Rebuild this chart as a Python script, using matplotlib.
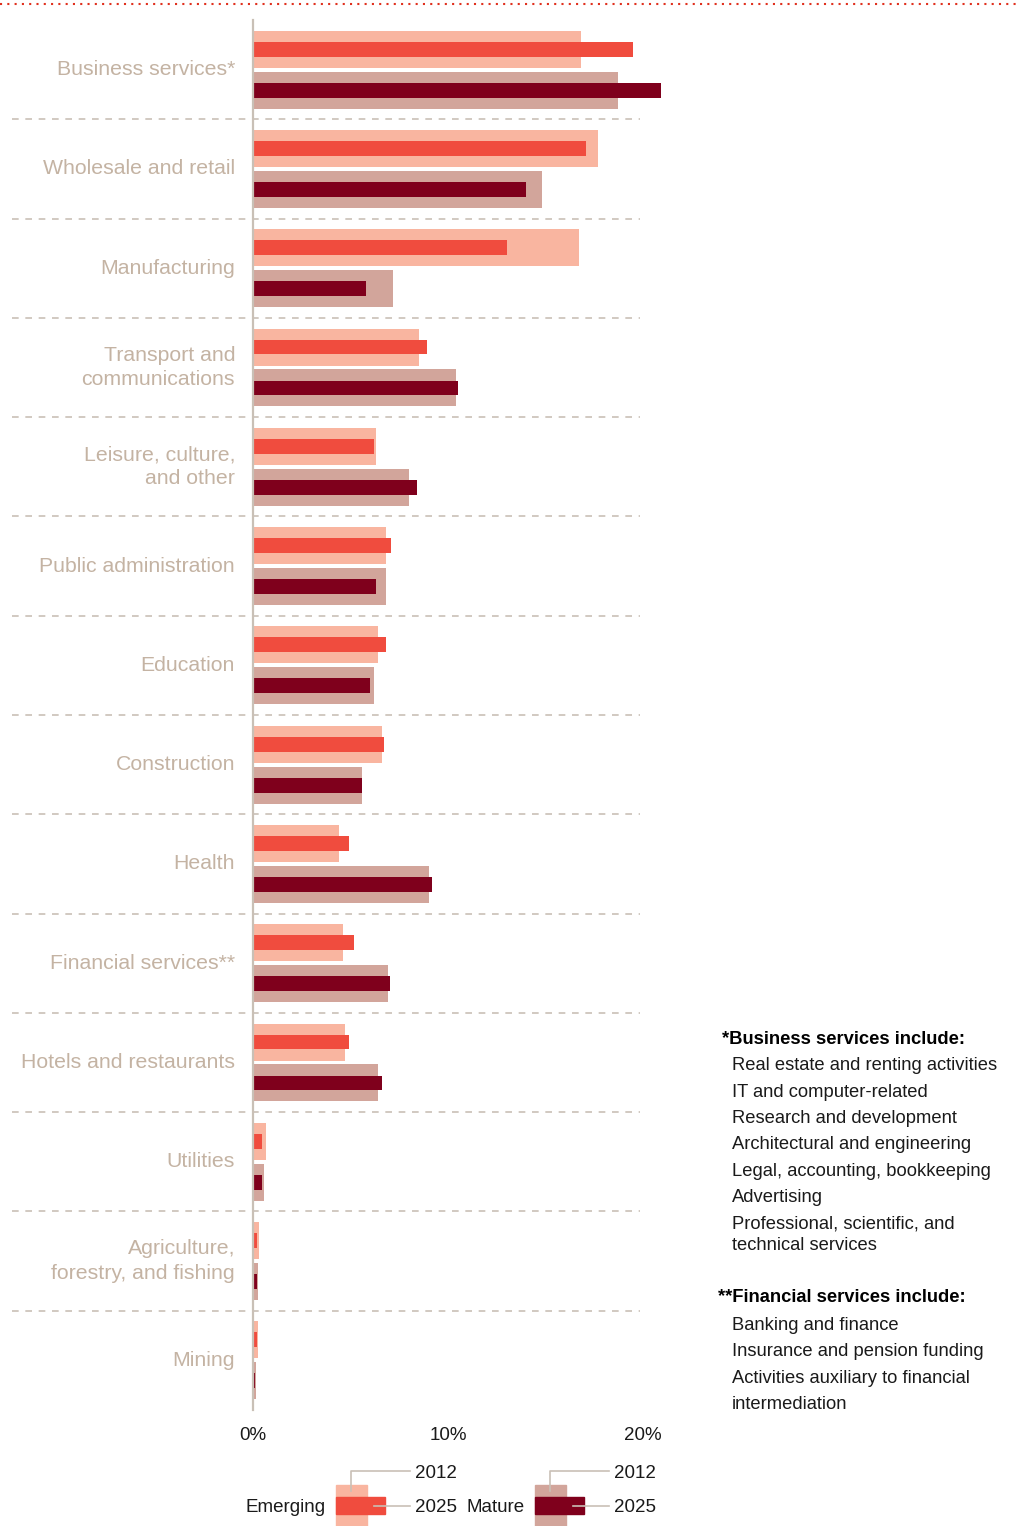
import matplotlib.pyplot as plt
from matplotlib.patches import Rectangle
from matplotlib.lines import Line2D

plt.rcParams['font.family'] = ['Liberation Sans', 'DejaVu Sans']

categories = ['Business services*', 'Wholesale and retail', 'Manufacturing',
              'Transport and\ncommunications', 'Leisure, culture,\nand other',
              'Public administration', 'Education', 'Construction', 'Health',
              'Financial services**', 'Hotels and restaurants', 'Utilities',
              'Agriculture,\nforestry, and fishing', 'Mining']

emerging_2012 = [16.8, 17.7, 16.7, 8.5, 6.3, 6.8, 6.4, 6.6, 4.4, 4.6, 4.7, 0.67, 0.3, 0.26]
emerging_2025 = [19.5, 17.1, 13.0, 8.9, 6.2, 7.1, 6.8, 6.7, 4.9, 5.2, 4.9, 0.46, 0.2, 0.2]
mature_2012 = [18.7, 14.8, 7.2, 10.4, 8.0, 6.8, 6.2, 5.6, 9.0, 6.9, 6.4, 0.56, 0.26, 0.15]
mature_2025 = [20.9, 14.0, 5.8, 10.5, 8.4, 6.3, 6.0, 5.6, 9.2, 7.0, 6.6, 0.46, 0.2, 0.1]

x_ticks = [0, 10, 20]
x_tick_labels = ['0%', '10%', '20%']

business_notes = ['Real estate and renting activities', 'IT and computer-related',
                  'Research and development', 'Architectural and engineering',
                  'Legal, accounting, bookkeeping', 'Advertising',
                  'Professional, scientific, and', 'technical services']
financial_notes = ['Banking and finance', 'Insurance and pension funding',
                   'Activities auxiliary to financial', 'intermediation']

c_e12 = '#f9b5a0'
c_e25 = '#f04c3e'
c_m12 = '#d2a59b'
c_m25 = '#7f001c'
c_grid = '#c9c0b6'
c_label = '#c4b3a3'
c_text = '#1a1a1a'

W, H = 1018, 1526
fig = plt.figure(figsize=(W / 100, H / 100), dpi=100)

# axes: 0% at x=253, 20% at x=643
ax_left, ax_top, ax_bottom = 253, 20, 1410
xmax = 22
ax_w = 19.5 * xmax
ax = fig.add_axes([ax_left / W, 1 - ax_bottom / H, ax_w / W, (ax_bottom - ax_top) / H])

n = len(categories)
ys = list(range(n))
wide, narrow, off = 0.372, 0.15, 0.206

ax.barh([y - off for y in ys], emerging_2012, height=wide, color=c_e12, zorder=2)
ax.barh([y - off for y in ys], emerging_2025, height=narrow, color=c_e25, zorder=3)
ax.barh([y + off for y in ys], mature_2012, height=wide, color=c_m12, zorder=2)
ax.barh([y + off for y in ys], mature_2025, height=narrow, color=c_m25, zorder=3)

ax.set_xlim(0, xmax)
ax.set_ylim(n - 0.5, -0.5)

for s in ['top', 'right', 'bottom']:
    ax.spines[s].set_visible(False)
ax.spines['left'].set_color(c_grid)
ax.spines['left'].set_linewidth(1.6)
ax.spines['left'].set_zorder(4)
ax.set_yticks([])
ax.set_xticks(x_ticks)
ax.set_xticklabels(x_tick_labels, fontsize=13.5, color=c_text)
ax.tick_params(axis='x', length=0, pad=12)

# dashed separators between categories
x_from = (12 - ax_left) / 19.5
x_to = (640 - ax_left) / 19.5
for i in range(n - 1):
    ax.plot([x_from, x_to], [i + 0.5, i + 0.5], color=c_grid, lw=1.2,
            ls=(0, (4, 4)), clip_on=False, zorder=1)

# category labels
for y, name in zip(ys, categories):
    ax.text(-0.92, y, name, ha='right', va='center', fontsize=15.3,
            color=c_label, linespacing=1.35)

# top dotted red rule
fig.add_artist(Line2D([0, 1], [1 - 4 / H, 1 - 4 / H], color='#e0301e', lw=1.5,
                      ls=(0, (1, 2.5)), transform=fig.transFigure))


def fx(px):
    return px / W


def fy(py):
    return 1 - py / H


def legend_block(x0, light, dark, label):
    fig.add_artist(Rectangle((fx(x0), fy(1526)), fx(31), 41 / H, color=light,
                             transform=fig.transFigure))
    fig.add_artist(Rectangle((fx(x0), fy(1514)), fx(49), 17 / H, color=dark,
                             transform=fig.transFigure))
    fig.add_artist(Line2D([fx(x0 + 15), fx(x0 + 15), fx(x0 + 74)],
                          [fy(1491), fy(1471), fy(1471)], color=c_grid, lw=1.2,
                          transform=fig.transFigure))
    fig.add_artist(Line2D([fx(x0 + 38), fx(x0 + 74)], [fy(1506), fy(1506)],
                          color=c_grid, lw=1.2, transform=fig.transFigure))
    fig.text(fx(x0 + 79), fy(1474), '2012', ha='left', va='center', fontsize=13.5,
             color=c_text)
    fig.text(fx(x0 + 79), fy(1507), '2025', ha='left', va='center', fontsize=13.5,
             color=c_text)
    fig.text(fx(x0 - 10), fy(1507), label, ha='right', va='center', fontsize=13.5,
             color=c_text)


legend_block(336, c_e12, c_e25, 'Emerging')
legend_block(535, c_m12, c_m25, 'Mature')

# footnotes
fig.text(fx(722), fy(1039), '*Business services include:', fontsize=13.2,
         fontweight='bold', va='center', ha='left', color='black')
y = 1066
for k, item in enumerate(business_notes):
    fig.text(fx(732), fy(y), item, fontsize=13.2, va='center', ha='left', color=c_text)
    y += 22 if k == 6 else 26.3

fig.text(fx(718), fy(1298), '**Financial services include:', fontsize=13.2,
         fontweight='bold', va='center', ha='left', color='black')
y = 1325
for item in financial_notes:
    fig.text(fx(732), fy(y), item, fontsize=13.2, va='center', ha='left', color=c_text)
    y += 26.6

fig.savefig('out.png', dpi=100)
